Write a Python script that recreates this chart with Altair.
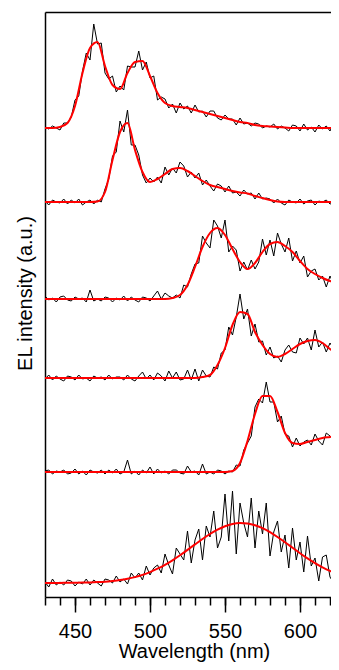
import altair as alt
import pandas as pd

# Wavelength grids (nm)
WL_RAW = [430 + 2.5 * i for i in range(80)]
WL_FIT = list(range(430, 631, 5))

# vertical offsets of the stacked spectra (a.u.), top to bottom
OFFSETS = [469, 395, 298, 219, 125, 14]

# measured (noisy) spectra, a.u. above each offset
RAW1 = [1, -1, 2, 0, -2, 5, 5, 11, 28, 32,
        57, 75, 68, 104, 84, 85, 55, 49, 52, 36,
        42, 38, 62, 61, 61, 77, 58, 66, 50, 52,
        28, 31, 29, 20, 24, 15, 25, 19, 22, 15,
        23, 16, 17, 11, 17, 17, 10, 8, 13, 9,
        9, 3, 10, 4, 5, 2, 5, 4, 0, 2,
        1, 4, -1, 2, 0, -3, 3, 2, -3, 4,
        -2, 1, -4, 3, -1, 2, -3, 5, -2, 2]
RAW2 = [1, -3, 2, 0, -1, 3, -2, 2, -1, 3,
        -3, 0, 2, -2, 2, 0, 13, 23, 46, 50,
        81, 70, 92, 57, 57, 47, 27, 19, 24, 20,
        25, 19, 35, 27, 34, 29, 40, 36, 25, 30,
        24, 29, 17, 22, 16, 11, 18, 16, 10, 16,
        9, 10, 6, 12, 8, 9, 3, 9, 3, 4,
        3, -1, 3, -1, -3, 2, 0, -1, 3, -2,
        1, 2, -3, 1, 0, 2, -2, -1, 3, -2]
RAW3 = [3, -1, 1, -3, 2, 3, -1, -2, 2, 0,
        1, -3, 9, -2, 0, -2, 2, 1, -3, 1,
        -1, 3, -2, 2, -1, -3, 2, 1, -2, 3,
        8, 0, 6, 3, 1, 4, 1, 14, 12, 25,
        35, 36, 63, 56, 51, 79, 73, 61, 79, 47,
        53, 49, 28, 37, 29, 39, 30, 37, 60, 44,
        59, 43, 66, 55, 47, 61, 38, 48, 36, 43,
        22, 28, 30, 19, 23, 12, 23, 15, 19, 11]
RAW4 = [-1, 3, -2, 2, -1, -3, 2, 1, -2, 3,
        -1, 0, -3, 2, 0, 1, -2, 3, -1, 1,
        1, -2, 3, -1, -3, 2, 6, -1, 3, -2,
        5, 2, -3, 7, 0, 6, -2, -1, 8, -2,
        9, -3, 8, 2, 1, 11, 9, 25, 28, 51,
        43, 61, 84, 59, 69, 42, 54, 36, 37, 23,
        31, 20, 22, 16, 28, 33, 26, 25, 40, 34,
        40, 28, 48, 31, 36, 26, 35, 29, 17, 22]
RAW5 = [1, 2, -2, 1, 0, 2, -2, -1, 3, -2,
        1, -3, 2, 0, -1, 2, -2, 2, -1, 3,
        -2, 0, 12, -2, 1, -3, 2, -1, 5, -2,
        3, -1, 1, -2, 2, 2, -1, -2, 6, 0,
        1, -3, 8, -2, 0, -2, 2, 1, -2, 1,
        0, 7, 6, 22, 29, 36, 65, 73, 69, 90,
        70, 70, 50, 56, 38, 36, 25, 34, 26, 30,
        32, 27, 38, 31, 27, 39, 36, 32, 44, 30]
RAW6 = [1, -4, 4, -2, 1, -2, 3, 2, -3, 1,
        -1, 4, -2, 3, 0, -3, 4, 3, 0, 7,
        1, 4, -1, 10, 5, 10, 3, 17, 8, 15,
        18, 10, 29, 18, 9, 35, 29, 23, 52, 20,
        43, 54, 23, 57, 46, 72, 35, 46, 89, 42,
        92, 29, 80, 60, 46, 85, 35, 72, 49, 80,
        27, 51, 62, 31, 48, 15, 55, 23, 41, 11,
        47, 17, 25, 2, 26, 28, 6, 0, 30, 5]

# fitted curves, a.u. above each offset (5 nm steps)
FIT1 = [0, 0, 1, 5, 22, 55, 80, 86, 62, 43,
        39, 55, 66, 67, 52, 35, 25, 22, 21, 20,
        18, 16, 14, 12, 10, 8, 6, 5, 3, 2,
        1.5, 1, 0.5, 0, 0, 0, 0, 0, 0, 0, 0]
FIT2 = [0, 0, 0, 0, 0, 0, 0, 0.5, 10, 42,
        70, 79, 52, 30, 20, 23, 28, 33, 34, 31,
        26, 21, 17, 15, 13, 11, 9.5, 8.5, 6, 4,
        2, 0.5, 0, 0, 0, 0, 0, 0, 0, 0, 0]
FIT3 = [0, 0, 0, 0, 0, 0, 0, 0, 0, 0,
        0, 0, 0, 0, 0, 0, 0, 1, 4, 14,
        32, 52, 66, 71, 64, 50, 37, 30, 36, 47,
        55, 57, 53, 47, 38, 30, 25, 21, 18, 16, 14]
FIT4 = [0, 0, 0, 0, 0, 0, 0, 0, 0, 0,
        0, 0, 0, 0, 0, 0, 0, 0, 0, 0,
        0, 1, 3, 13, 30, 53, 66, 64, 46, 33,
        24, 21, 24, 29, 34, 37, 38, 35, 29, 23, 18]
FIT5 = [0, 0, 0, 0, 0, 0, 0, 0, 0, 0,
        0, 0, 0, 0, 0, 0, 0, 0, 0, 0,
        0, 0, 0, 0, 0, 1, 9, 31, 58, 76,
        76, 60, 39, 29, 28, 30, 32, 34, 35, 36, 36]
FIT6 = [0, 0, 0.1, 0.2, 0.3, 0.4, 0.6, 0.9, 1.3, 2,
        2.9, 4.2, 5.9, 8.1, 10.9, 14.3, 18.2, 22.7, 27.7, 33.1,
        38.6, 44, 49, 53.3, 56.8, 59.1, 60, 59.5, 57.8, 54.8,
        50.8, 46, 40.8, 35.3, 29.8, 24.6, 19.9, 15.7, 12.1, 9.2, 6.7]

RAW = [RAW1, RAW2, RAW3, RAW4, RAW5, RAW6]
FIT = [FIT1, FIT2, FIT3, FIT4, FIT5, FIT6]

raw_rows, fit_rows = [], []
for k, (off, vals) in enumerate(zip(OFFSETS, RAW)):
    for w, v in zip(WL_RAW, vals):
        raw_rows.append({"wl": w, "y": off + v, "trace": k})
for k, (off, vals) in enumerate(zip(OFFSETS, FIT)):
    for w, v in zip(WL_FIT, vals):
        fit_rows.append({"wl": w, "y": off + v, "trace": k})
raw_df = pd.DataFrame(raw_rows)
fit_df = pd.DataFrame(fit_rows)

FONT = "Liberation Sans"
PLOT_W = 286
xs = alt.Scale(domain=[430, 430 + PLOT_W / 1.5], nice=False, zero=False)
ys = alt.Scale(domain=[0, 585], nice=False, zero=False)

major_axis = alt.Axis(
    orient="bottom", values=[450, 500, 550, 600], format="d",
    tickSize=15, tickWidth=1.5, tickColor="black",
    domainColor="black", domainWidth=1.5,
    labelFont=FONT, labelFontSize=20, labelColor="black", labelPadding=9,
    labelFlush=False, grid=False,
    title="Wavelength (nm)", titleFont=FONT, titleFontSize=20,
    titleFontWeight="normal", titleColor="black", titleY=60, titleX=149,
    titleBaseline="alphabetic",
)
minor_axis = alt.Axis(
    orient="bottom", values=list(range(430, 621, 10)),
    tickSize=8, tickWidth=1.5, tickColor="black",
    labels=False, domain=False, grid=False, title=None,
)
top_axis = alt.Axis(
    orient="top", ticks=False, labels=False, grid=False, title=None,
    domainColor="black", domainWidth=1.5,
)
left_axis = alt.Axis(
    orient="left", ticks=False, labels=False, grid=False,
    domainColor="black", domainWidth=1.5,
    title="EL intensity (a.u.)", titleFont=FONT, titleFontSize=20,
    titleFontWeight="normal", titleColor="black", titleAngle=270,
    titleX=-14, titleY=281, titleBaseline="alphabetic",
)

raw_layer = alt.Chart(raw_df).mark_line(color="black", strokeWidth=1, clip=True).encode(
    x=alt.X("wl:Q", scale=xs, axis=major_axis),
    y=alt.Y("y:Q", scale=ys, axis=left_axis),
    detail="trace:N",
)
fit_layer = alt.Chart(fit_df).mark_line(
    color="#ff0000", strokeWidth=2, clip=True, interpolate="monotone"
).encode(
    x=alt.X("wl:Q", scale=xs, axis=minor_axis),
    y=alt.Y("y:Q", scale=ys, axis=None),
    detail="trace:N",
)
frame_layer = alt.Chart(fit_df).mark_line(opacity=0, clip=True).encode(
    x=alt.X("wl:Q", scale=xs, axis=top_axis),
    y=alt.Y("y:Q", scale=ys, axis=None),
    detail="trace:N",
)

chart = (
    alt.layer(raw_layer, fit_layer, frame_layer)
    .resolve_axis(x="independent", y="independent")
    .properties(
        width=PLOT_W, height=585,
        autosize=alt.AutoSizeParams(type="none"),
        padding={"left": 37, "top": 4, "right": 0, "bottom": 65},
        background="white",
    )
    .configure_view(stroke=None)
)

chart.save("out.html", embed_options={"renderer": "svg", "actions": False})
